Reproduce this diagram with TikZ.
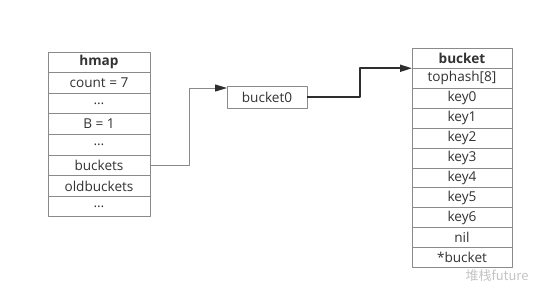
\documentclass[tikz,border=0pt]{standalone}
\usepackage{fontspec}
\setmainfont{Open Sans}
\newfontfamily\cjkfont{Noto Sans CJK SC}
\usetikzlibrary{positioning,arrows.meta}
\definecolor{cellline}{HTML}{8A8A8A}
\definecolor{txt}{HTML}{333333}
\definecolor{wire}{HTML}{8A8A8A}
\definecolor{wiredark}{HTML}{2E2E2E}
\definecolor{mark}{HTML}{C4C4C4}

\tikzset{
  cell/.style={draw=cellline, line width=1pt, fill=white, inner sep=0pt,
    outer sep=0pt, text=txt, font=\fontsize{13.6}{15}\selectfont},
  hcell/.style={cell, minimum width=102pt, minimum height=20.6pt},
  bcell/.style={cell, minimum width=100pt, minimum height=19.95pt},
  head/.style={font=\fontsize{13.6}{15}\selectfont\bfseries},
  tip/.style={-{Triangle[length=12pt,width=7pt,color=wiredark]}},
}

\begin{document}
\begin{tikzpicture}[x=1pt,y=-1pt, line join=round]
  \useasboundingbox (0,0) rectangle (544,298);

  % ---- hmap struct --------------------------------------------------------
  \node[hcell, head, anchor=north] (h0) at (99,52) {hmap};
  \foreach \t [count=\i, remember=\i as \j (initially 0)] in
      {count = 7, \ldots, B = 1, \ldots, buckets, oldbuckets, \ldots} {
    \node[hcell, below=0pt of h\j] (h\i) {\t};
  }

  % ---- bucket array entry -------------------------------------------------
  \node[cell, minimum width=80pt, minimum height=22pt] (b0) at (267,97) {bucket0};

  % ---- bucket struct ------------------------------------------------------
  \node[bcell, head, anchor=north] (r0) at (462,48.3) {bucket};
  \foreach \t [count=\i, remember=\i as \j (initially 0)] in
      {tophash[8], key0, key1, key2, key3, key4, key5, key6, nil, *bucket} {
    \node[bcell, below=0pt of r\j] (r\i) {\t};
  }

  % ---- pointers -----------------------------------------------------------
  \coordinate (in0) at ([yshift=9pt]b0.west);
  \draw[wire, line width=1pt, tip] (h5.east) -- ++(39,0) |- (in0);
  \draw[wiredark, line width=1.8pt, tip] (b0.east) -- ++(53,0) |- (r0.south west);

  % ---- watermark ----------------------------------------------------------
  \node[text=mark, font=\cjkfont\fontsize{13}{15}\selectfont, anchor=west]
    (wm) at (462,276) {堆栈future};

\end{tikzpicture}
\end{document}
